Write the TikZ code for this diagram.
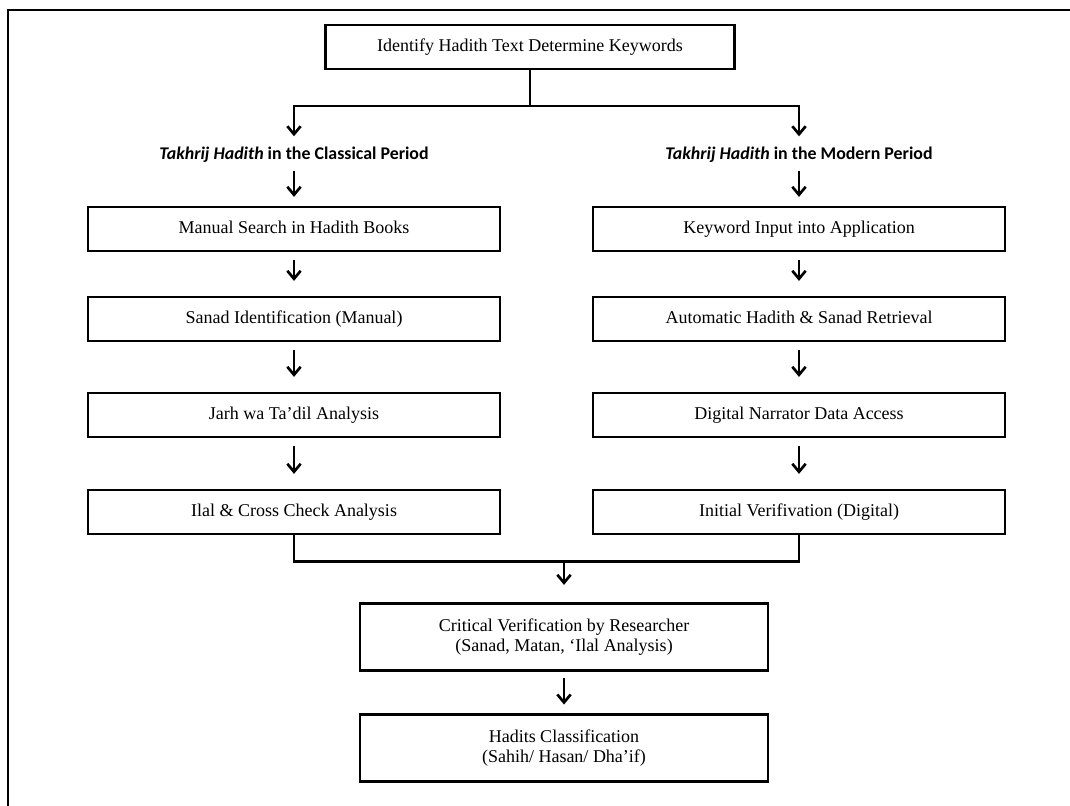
\documentclass[tikz,border=0pt]{standalone}
\usepackage{fontspec}
\setmainfont{Liberation Serif}
\newfontfamily\headfont{Carlito}
\usetikzlibrary{arrows.meta}

\begin{document}
\begin{tikzpicture}[
  x=0.75pt, y=-0.75pt,
  boxbase/.style={draw, line width=2.2pt, fill=white, inner sep=2pt,
                  align=center, font=\fontsize{13.5}{15}\selectfont},
  stepbox/.style={boxbase, minimum width=309pt, minimum height=33pt,
                  text height=2ex, text depth=.45ex},
  bigbox/.style={boxbase, minimum width=306pt, minimum height=50pt},
  period/.style={inner sep=0pt, font=\headfont\bfseries\fontsize{13.4}{15}\selectfont},
  link/.style={line width=2.2pt},
  arr/.style={line width=2pt, -{Straight Barb[length=6pt,width=10pt]}}
]
\useasboundingbox (0,0) rectangle (1070,806);
% outer frame
\draw[line width=2.2pt] (8,806) -- (8,10) -- (1070,10);
% start
\node[stepbox, minimum width=307pt] (ident) at (530,47) {Identify Hadith Text Determine Keywords};
% the two periods
\node[period] (hL) at (294,155) {\textit{Takhrij Hadith} in the Classical Period};
\node[period] (hR) at (799,155) {\textit{Takhrij Hadith} in the Modern Period};
% classical steps (left)
\node[stepbox] (L1) at (294,229) {Manual Search in Hadith Books};
\node[stepbox] (L2) at (294,319) {Sanad Identification (Manual)};
\node[stepbox] (L3) at (294,415) {Jarh wa Ta’dil Analysis};
\node[stepbox] (L4) at (294,512) {Ilal \& Cross Check Analysis};
% modern steps (right)
\node[stepbox] (R1) at (799,229) {Keyword Input into Application};
\node[stepbox] (R2) at (799,319) {Automatic Hadith \& Sanad Retrieval};
\node[stepbox] (R3) at (799,415) {Digital Narrator Data Access};
\node[stepbox] (R4) at (799,512) {Initial Verifivation (Digital)};
% verification and result
\node[bigbox] (crit) at (564,637) {Critical Verification by Researcher\\(Sanad, Matan, ‘Ilal Analysis)};
\node[bigbox] (class) at (564,748) {Hadits Classification\\(Sahih/ Hasan/ Dha’if)};
% split into the two periods
\coordinate (split) at (530,106);
\draw[link] (ident.south) -- (split);
\draw[arr, shorten >=8pt] (split) -| (hL.north);
\draw[arr, shorten >=8pt] (split) -| (hR.north);
\draw[arr, shorten <=6pt, shorten >=6.5pt] (hL.south) -- (L1.north);
\draw[arr, shorten <=6pt, shorten >=6.5pt] (hR.south) -- (R1.north);
% steps within each column
\foreach \a/\b in {L1/L2, L2/L3, L3/L4, R1/R2, R2/R3, R3/R4}
  \draw[arr, shorten <=6pt, shorten >=11pt] (\a.south) -- (\b.north);
% join both columns
\coordinate (join) at (564,561);
\draw[link] (L4.south) -- ++(0,26) -| (R4.south);
\draw[arr, shorten >=13pt] (join) -- (crit.north);
\draw[arr, shorten <=5pt, shorten >=6.5pt] (crit.south) -- (class.north);
\end{tikzpicture}
\end{document}
